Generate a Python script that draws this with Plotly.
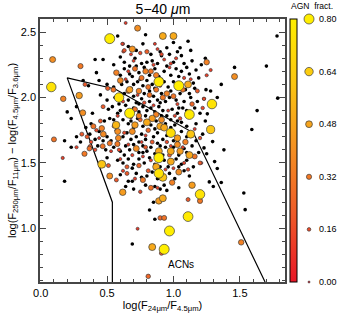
import plotly.graph_objects as go

# ---------------- data ----------------
# sources with an AGN fraction: (x, y, agn fraction)
agn_pts = [
    (0.64,2.57,0.10),(0.73,2.53,0.40),(0.92,2.47,0.50),(1.00,2.47,0.50),(0.52,2.45,0.80),
    (0.62,2.41,0.12),(0.63,2.36,0.18),(0.69,2.37,0.42),(0.80,2.35,0.22),(0.86,2.41,0.10),
    (0.09,2.29,0.40),(0.30,2.24,0.32),(0.75,2.34,0.15),(0.91,2.33,0.15),(1.25,2.27,0.35),
    (1.28,2.21,0.12),(1.25,2.17,0.12),(1.46,2.16,0.40),(0.57,2.19,0.35),(0.60,2.13,0.38),
    (0.71,2.22,0.30),(0.79,2.20,0.35),(0.83,2.20,0.30),(0.87,2.17,0.35),(0.76,2.15,0.30),
    (0.89,2.12,0.78),(1.04,2.09,0.80),(1.11,2.10,0.50),(0.08,2.08,0.75),(0.17,1.99,0.35),
    (0.29,2.015,0.45),(0.59,2.00,0.75),(0.67,2.06,0.45),(0.81,2.08,0.30),(0.74,2.05,0.35),
    (0.87,2.06,0.30),(0.95,2.03,0.35),(1.00,2.01,0.30),(1.07,2.06,0.30),(1.18,2.05,0.20),
    (1.23,1.99,0.15),(1.22,1.92,0.15),(1.29,1.95,0.75),(0.505,2.07,0.22),(0.548,2.06,0.30),
    (0.334,2.10,0.20),(0.67,1.88,0.80),(1.12,1.87,0.78),(0.317,1.883,0.40),(0.47,1.93,0.20),
    (0.45,1.82,0.20),(0.568,1.79,0.55),(0.58,1.74,0.40),(0.585,1.69,0.38),(0.46,1.765,0.35),
    (0.397,1.78,0.30),(0.472,1.72,0.38),(0.10,1.68,0.30),(0.31,1.72,0.20),(0.35,1.70,0.20),
    (0.38,1.66,0.15),(0.372,1.625,0.20),(0.467,1.628,0.30),(0.52,1.65,0.30),(0.578,1.645,0.32),
    (0.69,1.74,0.40),(0.71,1.79,0.45),(0.75,1.83,0.20),(0.80,1.81,0.50),(0.84,1.84,0.45),
    (0.87,1.87,0.35),(0.91,1.83,0.40),(0.90,1.78,0.48),(0.93,1.77,0.50),(0.81,1.75,0.25),
    (0.72,1.61,0.40),(0.79,1.62,0.20),(0.84,1.66,0.20),(0.98,1.73,0.72),(1.03,1.69,0.45),
    (1.09,1.66,0.35),(1.13,1.72,0.60),(1.03,1.64,0.40),(1.28,1.755,0.62),(1.20,1.69,0.15),
    (0.89,1.54,0.80),(0.89,1.59,0.50),(0.98,1.59,0.50),(1.05,1.59,0.45),(0.98,1.51,0.50),
    (0.97,1.56,0.20),(1.12,1.56,0.50),(1.16,1.55,0.30),(1.20,1.50,0.20),(1.21,1.50,0.10),
    (0.87,1.47,0.50),(0.89,1.42,0.75),(0.92,1.39,0.60),(1.04,1.43,0.40),(0.99,1.35,0.35),
    (0.81,1.44,0.20),(0.74,1.48,0.25),(0.65,1.47,0.20),(0.65,1.42,0.20),(0.52,1.40,0.40),
    (0.46,1.49,0.60),(0.51,1.48,0.20),(0.57,1.37,0.20),(0.77,1.37,0.32),(0.618,1.276,0.45),
    (0.83,1.31,0.30),(0.75,1.28,0.15),(1.14,1.33,0.45),(1.20,1.26,0.75),(1.20,1.21,0.32),
    (1.11,1.22,0.20),(0.89,1.21,0.45),(0.92,1.23,0.50),(0.93,1.08,0.30),(0.90,1.08,0.25),
    (1.11,1.09,0.78),(0.97,0.98,0.80),(0.73,0.997,0.10),(0.84,0.857,0.50),(0.93,0.84,0.80),
    (0.91,0.81,0.22),(1.51,0.893,0.35),(0.81,0.633,0.25),(0.166,1.538,0.12),(0.33,1.57,0.32),
    (0.367,1.61,0.28),(0.41,1.60,0.15),(0.59,1.60,0.15),(0.615,2.41,0.12),(0.623,2.352,0.12),
    (0.70,2.28,0.10),(0.93,2.29,0.10),(1.02,2.30,0.12),(0.66,2.20,0.12),(0.85,2.25,0.12),
    (0.97,2.23,0.10),(1.08,2.15,0.12),(0.73,2.02,0.10),(0.92,2.00,0.12),(1.03,1.95,0.12),
    (0.62,1.97,0.12),(0.78,1.96,0.15),(0.68,1.85,0.12),(0.96,1.90,0.10),(1.05,1.84,0.15),
    (0.55,1.78,0.12),(0.42,1.75,0.15),(0.63,1.73,0.15),(0.76,1.66,0.10),(0.95,1.66,0.15),
    (1.07,1.62,0.12),(0.69,1.56,0.12),(0.83,1.52,0.12),(1.00,1.46,0.10),(1.11,1.45,0.15),
    (0.88,1.31,0.12),(0.62,1.44,0.12),(0.27,1.62,0.12),(0.66,2.05,0.30),(0.82,2.02,0.30),
    (0.92,2.00,0.32),(1.14,1.95,0.25),(0.71,1.91,0.30),(0.74,1.86,0.35),
    (0.68,2.33,0.10),(0.88,2.37,0.10),(0.98,2.26,0.12),(0.64,2.14,0.10),(0.90,2.09,0.12),
    (1.13,2.14,0.10),(0.85,1.94,0.10),(0.58,1.86,0.12),(0.79,1.71,0.10),(0.66,1.64,0.12),
    (0.98,1.63,0.10),(0.77,1.55,0.10),(0.60,1.53,0.10),(1.08,1.50,0.12),(0.94,1.45,0.10),
    (0.71,1.38,0.12),(0.53,1.59,0.10),(0.44,1.69,0.10),(1.16,1.76,0.10),(1.01,1.86,0.12),
]
agn_x = [p[0] for p in agn_pts]
agn_y = [p[1] for p in agn_pts]
agn_f = [p[2] for p in agn_pts]

# sources without AGN fraction (black dots)
blk_pts = [
    (0.79,2.48),(1.11,2.43),(0.58,2.47),(1.78,2.47),
    (0.77,2.41),(0.95,2.38),(1.00,2.42),(1.13,2.36),(0.66,2.39),(0.90,2.35),(1.05,2.38),
    (0.41,2.29),(0.47,2.29),(0.71,2.30),(0.91,2.32),(0.97,2.33),(1.06,2.32),(1.08,2.26),
    (0.84,2.28),(0.63,2.27),(0.55,2.25),(1.24,2.30),(1.21,2.25),(0.76,2.26),(1.00,2.27),(1.14,2.28),
    (0.42,2.19),(0.36,2.09),(0.63,2.22),(0.67,2.18),(0.72,2.24),(0.78,2.23),(0.82,2.17),
    (0.86,2.22),(0.93,2.20),(0.98,2.17),(1.02,2.22),(1.06,2.20),(1.12,2.18),(1.17,2.21),
    (1.19,2.15),(1.46,2.23),(1.70,2.24),(0.69,2.16),(0.95,2.24),(0.74,2.19),(0.89,2.16),
    (0.61,2.10),(0.65,2.12),(0.70,2.10),(0.73,2.12),(0.77,2.09),(0.80,2.13),(0.84,2.10),
    (0.86,2.07),(0.93,2.12),(0.96,2.08),(1.00,2.12),(1.09,2.06),(1.15,2.11),(1.16,2.07),
    (1.245,2.06),(1.28,2.05),(1.36,2.10),(0.55,2.08),(0.50,2.10),(0.44,2.13),(0.32,2.13),
    (0.50,1.98),(0.56,2.00),(0.63,2.03),(0.66,1.98),(0.70,2.01),(0.72,1.96),(0.76,1.99),
    (0.78,2.03),(0.82,1.97),(0.85,2.01),(0.88,1.98),(0.91,2.03),(0.94,1.97),(0.97,2.00),
    (1.02,1.98),(1.05,2.03),(1.08,1.97),(1.13,2.00),(1.18,1.97),(1.23,1.99),(1.33,2.00),
    (1.785,1.995),(0.27,1.93),(0.51,1.91),(0.54,1.93),(0.60,1.90),(0.64,1.94),(0.70,1.92),
    (0.74,1.89),(0.77,1.93),(0.80,1.90),(0.83,1.92),(0.86,1.89),(0.89,1.93),(0.92,1.90),
    (0.95,1.86),(0.99,1.91),(1.03,1.88),(1.07,1.92),(1.16,1.92),(1.20,1.88),(1.255,1.875),
    (1.63,1.90),(0.20,1.89),(1.10,1.90),
    (0.23,1.84),(0.48,1.82),(0.52,1.84),(0.55,1.83),(0.62,1.83),(0.66,1.80),(0.73,1.84),
    (0.77,1.78),(0.83,1.79),(0.87,1.82),(0.94,1.80),(0.98,1.83),(1.01,1.79),(1.06,1.81),
    (1.10,1.78),(1.17,1.80),(1.24,1.82),(1.59,1.755),(0.38,1.80),
    (0.18,1.67),(0.27,1.70),(0.37,1.72),(0.41,1.68),(0.44,1.74),(0.50,1.70),(0.53,1.67),
    (0.62,1.70),(0.65,1.73),(0.68,1.68),(0.72,1.70),(0.76,1.72),(0.79,1.68),(0.85,1.70),
    (0.88,1.73),(0.92,1.68),(0.95,1.71),(1.00,1.67),(1.06,1.74),(1.10,1.70),(1.17,1.67),
    (1.295,1.663),(1.22,1.72),
    (0.23,1.62),(0.43,1.63),(0.49,1.60),(0.55,1.62),(0.60,1.59),(0.64,1.63),(0.67,1.60),
    (0.70,1.64),(0.74,1.58),(0.77,1.63),(0.80,1.59),(0.83,1.62),(0.86,1.57),(0.90,1.63),
    (0.94,1.62),(1.00,1.62),(1.04,1.56),(1.08,1.61),(1.14,1.63),(1.19,1.58),(1.23,1.615),
    (1.38,1.60),(1.25,1.57),
    (0.50,1.54),(0.58,1.52),(0.62,1.50),(0.66,1.53),(0.70,1.49),(0.74,1.53),(0.78,1.50),
    (0.82,1.54),(0.86,1.49),(0.93,1.52),(0.96,1.47),(1.02,1.53),(1.06,1.49),(1.10,1.52),
    (1.15,1.47),(1.31,1.51),(1.33,1.457),
    (0.18,1.36),(0.60,1.41),(0.66,1.36),(0.69,1.36),(0.72,1.42),(0.76,1.39),(0.80,1.40),
    (0.84,1.43),(0.88,1.38),(0.97,1.42),(1.01,1.38),(1.08,1.44),(1.12,1.40),(1.27,1.355),
    (1.36,1.35),(1.30,1.32),
    (0.79,1.33),(0.86,1.32),(0.90,1.30),(0.93,1.33),(1.04,1.31),(1.53,1.27),(0.70,1.30),
    (0.82,1.14),(0.86,1.07),(1.54,1.143),(0.85,1.20),(0.69,0.88),
    (0.72,2.36),(0.83,2.33),(1.03,2.35),(0.60,2.31),(0.88,2.26),(0.67,2.24),(0.80,2.27),
    (1.10,2.23),(0.60,2.17),(0.75,2.14),(0.91,2.14),(1.04,2.16),(0.68,2.07),(0.82,2.05),
    (0.98,2.05),(1.12,2.03),(0.59,1.95),(0.74,1.95),(0.90,1.96),(1.04,1.92),(0.58,1.88),
    (0.68,1.82),(0.79,1.86),(0.91,1.86),(1.03,1.82),(0.57,1.75),(0.70,1.77),(0.86,1.76),
    (0.98,1.77),(0.47,1.67),(0.58,1.65),(0.74,1.66),(0.88,1.65),(1.03,1.66),(0.63,1.56),
    (0.77,1.58),(0.92,1.56),(1.10,1.58),(0.69,1.46),(0.90,1.47),(1.04,1.47),(0.64,1.32),
    (0.95,1.29),(0.34,1.77),(0.30,1.66),(0.39,1.88),(0.45,2.02),
]
blk_x = [p[0] for p in blk_pts]
blk_y = [p[1] for p in blk_pts]

# AGN wedge
wedge_x = [0.54, 0.54, 0.20, 0.56, 1.15, 1.69]
wedge_y = [0.59, 1.20, 2.15, 2.065, 1.73, 0.59]

# size legend
leg_f = [0.00, 0.16, 0.32, 0.48, 0.64, 0.80]
leg_labels = ["0.00", "0.16", "0.32", "0.48", "0.64", "0.80"]

FONT = "Liberation Sans, Arial, Helvetica, sans-serif"
cscale = [[0.0, "rgb(232,22,38)"], [0.25, "rgb(238,88,40)"], [0.5, "rgb(244,142,34)"],
          [0.75, "rgb(250,196,18)"], [1.0, "rgb(255,238,0)"]]

def msize(f):
    return 2.0 + 10.0 * f

order = sorted(range(len(agn_f)), key=lambda i: agn_f[i])

fig = go.Figure()
fig.add_trace(go.Scatter(x=blk_x, y=blk_y, mode="markers",
                         marker=dict(color="black", size=3.6, line=dict(width=0), opacity=1),
                         showlegend=False, hoverinfo="skip"))
fig.add_trace(go.Scatter(x=wedge_x, y=wedge_y, mode="lines",
                         line=dict(color="black", width=1.2), showlegend=False, hoverinfo="skip"))
fig.add_trace(go.Scatter(
    x=[agn_x[i] for i in order], y=[agn_y[i] for i in order], mode="markers",
    marker=dict(color=[agn_f[i] for i in order], size=[msize(agn_f[i]) for i in order],
                colorscale=cscale, cmin=0, cmax=0.8, opacity=1,
                line=dict(color="rgb(60,60,60)", width=0.7),
                colorbar=dict(x=(290 - 40) / 298, xanchor="left", y=0.5, yanchor="middle", len=1.0,
                              lenmode="fraction", thickness=7, xpad=0, ypad=0,
                              outlinewidth=1, outlinecolor="black",
                              showticklabels=False, ticks="")),
    showlegend=False, hoverinfo="skip"))

# size legend on its own axes
fig.add_trace(go.Scatter(
    x=[0.31] * len(leg_f), y=leg_f, mode="markers",
    marker=dict(color=leg_f, size=[msize(f) for f in leg_f], colorscale=cscale, cmin=0, cmax=0.8,
                opacity=1, line=dict(color="rgb(60,60,60)", width=0.7)),
    xaxis="x2", yaxis="y2", showlegend=False, hoverinfo="skip", cliponaxis=False))
for f, lab in zip(leg_f, leg_labels):
    fig.add_annotation(text=lab, x=(317 - 40) / 298, y=f, xref="paper", yref="y2",
                       xanchor="left", yanchor="middle", showarrow=False,
                       font=dict(family=FONT, size=9, color="black"))

fig.add_annotation(text="ACNs", x=1.06, y=0.72, xref="x", yref="y", showarrow=False,
                   font=dict(family=FONT, size=10, color="black"))
fig.add_annotation(text="AGN  fract.", x=(312 - 40) / 298, y=1.0, xref="paper", yref="paper",
                   yshift=13, showarrow=False, xanchor="center", yanchor="middle",
                   font=dict(family=FONT, size=8.5, color="black"))

axis_common = dict(showgrid=False, zeroline=False, showline=True, linecolor="rgb(70,70,70)",
                   linewidth=1.5, mirror="allticks", ticks="inside", ticklen=6,
                   tickcolor="rgb(70,70,70)", tickwidth=1, automargin=False,
                   tickfont=dict(family=FONT, size=11, color="black"))

fig.update_layout(
    width=338, height=316,
    margin=dict(l=40, r=0, t=19, b=34, autoexpand=False),
    paper_bgcolor="white", plot_bgcolor="white",
    title=dict(text="5−40 <i>μ</i>m", x=(163 - 40) / 298, xref="paper", xanchor="center",
               y=1 - 9 / 316, yanchor="middle", automargin=False,
               font=dict(family=FONT, size=14, color="black")),
    xaxis=dict(domain=[0, 245 / 298], range=[-0.005, 1.84], tickvals=[0, 0.5, 1.0, 1.5],
               ticktext=["0.0", "0.5", "1.0", "1.5"],
               minor=dict(dtick=0.1, ticks="inside", ticklen=3, tickcolor="rgb(70,70,70)"),
               title=dict(text="log(F<sub>24μm</sub>/F<sub>4.5μm</sub>)", standoff=0,
                          font=dict(family=FONT, size=11, color="black")),
               **axis_common),
    yaxis=dict(domain=[0, 1], range=[0.59, 2.6], tickvals=[1.0, 1.5, 2.0, 2.5],
               ticktext=["1.0", "1.5", "2.0", "2.5"],
               minor=dict(dtick=0.1, ticks="inside", ticklen=3, tickcolor="rgb(70,70,70)"),
               title=dict(text="log(F<sub>250μm</sub>/F<sub>11μm</sub>) − log(F<sub>4.5μm</sub>/F<sub>3.6μm</sub>)",
                          standoff=2, font=dict(family=FONT, size=11, color="black")),
               **axis_common),
    xaxis2=dict(domain=[256 / 298, 1.0], range=[0, 1], visible=False, fixedrange=True),
    yaxis2=dict(domain=[0, 1], range=[0, 0.8], visible=False, anchor="x2", fixedrange=True),
)

fig.write_html("out.html", config={"displayModeBar": False},
               post_script="document.body.style.margin='0';document.body.style.padding='0';")
